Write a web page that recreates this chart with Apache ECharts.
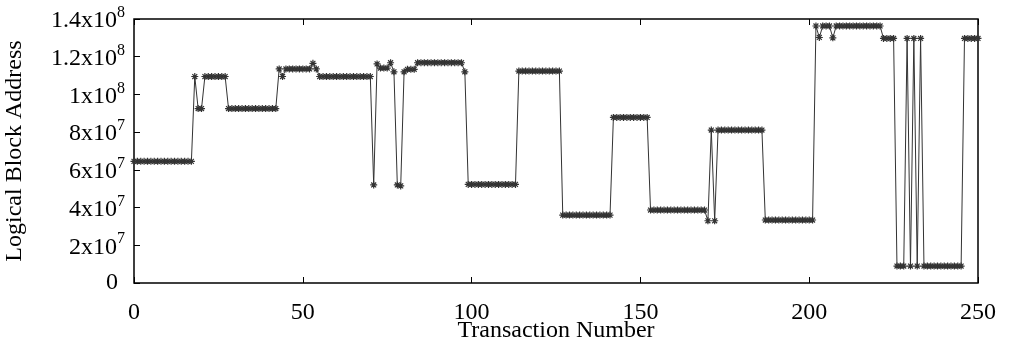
<!DOCTYPE html>
<html>
<head>
<meta charset="utf-8">
<script src="https://cdn.jsdelivr.net/npm/echarts@6/dist/echarts.min.js"></script>
<style>html,body{margin:0;padding:0;background:#fff;}#c{width:1010px;height:348px;}</style>
</head>
<body>
<div id="c"></div>
<script>
// Transaction numbers 0..250 (x), logical block addresses (y)
var transactions = [];
for (var i = 0; i <= 250; i++) transactions.push(i);

var lba = [
  6.45e7,6.45e7,6.45e7,6.45e7,6.45e7,6.45e7,6.45e7,6.45e7,6.45e7,6.45e7,6.45e7,6.45e7,6.45e7,6.45e7,6.45e7,6.45e7,6.45e7,6.45e7,
  1.095e8,
  9.25e7,9.25e7,
  1.095e8,1.095e8,1.095e8,1.095e8,1.095e8,1.095e8,1.095e8,
  9.25e7,9.25e7,9.25e7,9.25e7,9.25e7,9.25e7,9.25e7,9.25e7,9.25e7,9.25e7,9.25e7,9.25e7,9.25e7,9.25e7,9.25e7,
  1.135e8,
  1.095e8,
  1.135e8,1.135e8,1.135e8,1.135e8,1.135e8,1.135e8,1.135e8,1.135e8,
  1.165e8,
  1.135e8,
  1.095e8,1.095e8,1.095e8,1.095e8,1.095e8,1.095e8,1.095e8,1.095e8,1.095e8,1.095e8,1.095e8,1.095e8,1.095e8,1.095e8,1.095e8,1.095e8,
  5.2e7,
  1.162e8,
  1.14e8,1.14e8,1.14e8,
  1.168e8,
  1.12e8,
  5.2e7,
  5.15e7,
  1.12e8,
  1.133e8,1.133e8,1.133e8,
  1.168e8,1.168e8,1.168e8,1.168e8,1.168e8,1.168e8,1.168e8,1.168e8,1.168e8,1.168e8,1.168e8,1.168e8,1.168e8,1.168e8,
  1.12e8,
  5.23e7,5.23e7,5.23e7,5.23e7,5.23e7,5.23e7,5.23e7,5.23e7,5.23e7,5.23e7,5.23e7,5.23e7,5.23e7,5.23e7,5.23e7,
  1.124e8,1.124e8,1.124e8,1.124e8,1.124e8,1.124e8,1.124e8,1.124e8,1.124e8,1.124e8,1.124e8,1.124e8,1.124e8,
  3.6e7,3.6e7,3.6e7,3.6e7,3.6e7,3.6e7,3.6e7,3.6e7,3.6e7,3.6e7,3.6e7,3.6e7,3.6e7,3.6e7,3.6e7,
  8.78e7,8.78e7,8.78e7,8.78e7,8.78e7,8.78e7,8.78e7,8.78e7,8.78e7,8.78e7,8.78e7,
  3.87e7,3.87e7,3.87e7,3.87e7,3.87e7,3.87e7,3.87e7,3.87e7,3.87e7,3.87e7,3.87e7,3.87e7,3.87e7,3.87e7,3.87e7,3.87e7,3.87e7,
  3.3e7,
  8.11e7,
  3.3e7,
  8.11e7,8.11e7,8.11e7,8.11e7,8.11e7,8.11e7,8.11e7,8.11e7,8.11e7,8.11e7,8.11e7,8.11e7,8.11e7,8.11e7,
  3.34e7,3.34e7,3.34e7,3.34e7,3.34e7,3.34e7,3.34e7,3.34e7,3.34e7,3.34e7,3.34e7,3.34e7,3.34e7,3.34e7,3.34e7,
  1.363e8,
  1.302e8,
  1.363e8,1.363e8,1.363e8,
  1.3e8,
  1.363e8,1.363e8,1.363e8,1.363e8,1.363e8,1.363e8,1.363e8,1.363e8,1.363e8,1.363e8,1.363e8,1.363e8,1.363e8,1.363e8,
  1.297e8,1.297e8,1.297e8,1.297e8,
  9e6,9e6,9e6,
  1.297e8,
  9e6,
  1.297e8,
  9e6,
  1.297e8,
  9e6,9e6,9e6,9e6,9e6,9e6,9e6,9e6,9e6,9e6,9e6,9e6,
  1.297e8,1.297e8,1.297e8,1.297e8,1.297e8
];

var xTickLabels = ['0', '50', '100', '150', '200', '250'];
var yTickBase = ['0', '2x10', '4x10', '6x10', '8x10', '1x10', '1.2x10', '1.4x10'];
var yTickExp  = ['',  '7',    '7',    '7',    '7',    '8',    '8',      '8'];

var FONT = '"Liberation Serif", "DejaVu Serif", serif';

var chart = echarts.init(document.getElementById('c'), null, {renderer: 'canvas'});
var pts = transactions.map(function (t, k) { return [t, lba[k]]; });

var starPath = 'path://M0,5L10,5M5,0L5,10M1.5,1.5L8.5,8.5M1.5,8.5L8.5,1.5';

chart.setOption({
  animation: false,
  backgroundColor: '#ffffff',
  grid: {
    left: 134, right: 32, top: 19, bottom: 65,
    outerBoundsMode: 'none', containLabel: false,
    show: true, borderColor: '#000', borderWidth: 1.5, backgroundColor: 'transparent'
  },
  xAxis: [{
    type: 'value', min: 0, max: 250, interval: 50,
    name: 'Transaction Number', nameLocation: 'middle', nameGap: 36, nameMoveOverlap: false,
    nameTextStyle: {fontFamily: FONT, fontSize: 24, color: '#000'},
    axisLine: {show: false},
    axisTick: {show: true, inside: true, length: 6, lineStyle: {color: '#000', width: 1}},
    splitLine: {show: false},
    axisLabel: {
      margin: 18, fontFamily: FONT, fontSize: 24, color: '#000',
      formatter: function (v) { return xTickLabels[Math.round(v / 50)]; }
    }
  }, {
    type: 'value', min: 0, max: 250, interval: 50, position: 'top',
    axisLine: {show: false},
    axisTick: {show: true, inside: true, length: 6, lineStyle: {color: '#000', width: 1}},
    splitLine: {show: false},
    axisLabel: {show: false}
  }],
  yAxis: {
    type: 'value', min: 0, max: 1.4e8, interval: 2e7,
    name: 'Logical Block Address', nameLocation: 'middle', nameGap: 107, nameMoveOverlap: false,
    nameTextStyle: {fontFamily: FONT, fontSize: 24, color: '#000'},
    axisLine: {show: false},
    axisTick: {show: true, inside: true, length: 6, lineStyle: {color: '#000', width: 1}},
    splitLine: {show: false},
    axisLabel: {
      margin: 9, fontFamily: FONT, fontSize: 24, color: '#000',
      formatter: function (v) {
        var k = Math.round(v / 2e7);
        if (!yTickExp[k]) return '{z|' + yTickBase[k] + '}';
        return '{b|' + yTickBase[k] + '}{s|' + yTickExp[k] + '}';
      },
      rich: {
        b: {fontFamily: FONT, fontSize: 24, color: '#000', lineHeight: 28, verticalAlign: 'bottom'},
        s: {fontFamily: FONT, fontSize: 16, color: '#000', lineHeight: 16, verticalAlign: 'top'},
        z: {fontFamily: FONT, fontSize: 24, color: '#000', lineHeight: 24, padding: [0, 7, 0, 0]}
      }
    }
  },
  series: [{
    type: 'line',
    xAxisIndex: 0,
    data: pts,
    symbol: starPath,
    symbolSize: 7,
    showSymbol: true,
    showAllSymbol: true,
    lineStyle: {color: '#333', width: 1},
    itemStyle: {color: '#333', borderColor: '#333', borderWidth: 1.2},
    emphasis: {disabled: true}
  }]
});
</script>
</body>
</html>
